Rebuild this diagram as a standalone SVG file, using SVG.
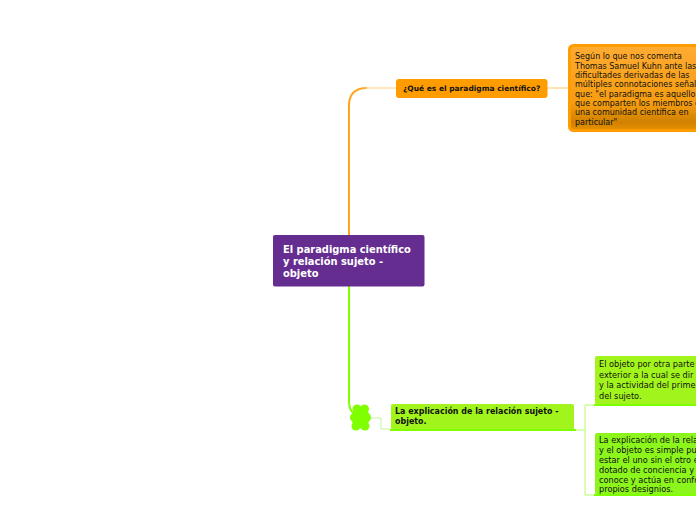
<svg xmlns="http://www.w3.org/2000/svg" width="696" height="520" viewBox="0 0 696 520">
<defs>
<linearGradient id="og" x1="0" y1="0" x2="0" y2="1"><stop offset="0" stop-color="#ffab33"/><stop offset="0.68" stop-color="#f59d10"/><stop offset="0.9" stop-color="#d08100"/><stop offset="1" stop-color="#e89200"/></linearGradient>
</defs>
<style>
text{font-family:"DejaVu Sans",Verdana,sans-serif;fill:#111}
.k{font-size:8px}
.s{font-size:8.200px}
.b{font-weight:bold}
.e{font-size:8.300px}
</style>
<rect width="696" height="520" fill="#fff"/>
<g id="connectors" fill="none">
<path d="M349 236V106Q349 88 367 88" stroke="#ffa51f" stroke-width="2"/>
<path d="M364 88H397" stroke="#ffcf80" stroke-width="1"/>
<path d="M547 88H569" stroke="#ffc766" stroke-width="1"/>
<path d="M349 286V402Q349 412 357 416" stroke="#7fff00" stroke-width="2"/>
<path d="M370 418H381V429H391" stroke="#c4f59a" stroke-width="1"/>
<path d="M574 430H585" stroke="#b3ff66" stroke-width="1"/>
<path d="M595 405H585V495H595" stroke="#b3ff66" stroke-width="1"/>
</g>
<g id="node-root">
<rect x="273" y="235" width="151.500" height="51.500" rx="2" fill="#662d91"/>
<text class="b" x="283" y="253" font-size="9.900" style="fill:#fff">El paradigma científico</text>
<text class="b" x="283" y="265" font-size="9.900" style="fill:#fff">y relación sujeto -</text>
<text class="b" x="283" y="277" font-size="9.900" style="fill:#fff">objeto</text>
</g>
<g id="node-paradigma">
<rect x="396" y="79" width="151.500" height="19" rx="3" fill="#ff9c00"/>
<text class="b" x="403" y="91" font-size="7.500">¿Qué es el paradigma científico?</text>
</g>
<g id="node-kuhn">
<rect x="569.500" y="45.500" width="140" height="85" rx="4" fill="url(#og)" stroke="#ff9c00" stroke-width="3"/>
<text class="k" x="575" y="58.500">Según lo que nos comenta</text>
<text class="k" x="575" y="68.500">Thomas Samuel Kuhn ante las</text>
<text class="k" x="575" y="77.500">dificultades derivadas de las</text>
<text class="k" x="575" y="87">múltiples connotaciones señala</text>
<text class="k" x="575" y="96.500">que: "el paradigma es aquello</text>
<text class="k" x="575" y="106">que comparten los miembros de</text>
<text class="k" x="575" y="115">una comunidad científica en</text>
<text class="k" x="575" y="125">particular"</text>
</g>
<g id="node-explicacion">
<rect x="391" y="404" width="183" height="26" rx="2" fill="#a2f51c"/>
<rect x="390" y="429" width="186" height="2" fill="#7fff00"/>
<text class="b e" transform="translate(395 414) scale(.959 1)">La explicación de la relación sujeto -</text>
<text class="b e" transform="translate(395 424) scale(.959 1)">objeto.</text>
</g>
<g id="node-cloud" fill="#7fff00">
<ellipse cx="360.500" cy="417.500" rx="9" ry="11"/>
<circle cx="357" cy="409" r="4.500"/>
<circle cx="364.500" cy="409" r="4.500"/>
<circle cx="354.500" cy="417.500" r="4.500"/>
<circle cx="366.500" cy="417.500" r="4.500"/>
<circle cx="356" cy="426" r="4.500"/>
<circle cx="365" cy="426" r="4.500"/>
</g>
<g id="node-objeto">
<rect x="595" y="356" width="110" height="49" rx="2" fill="#a2f51c"/>
<rect x="594" y="404" width="110" height="2" fill="#7fff00"/>
<text class="s" x="599" y="367">El objeto por otra parte</text>
<text class="s" x="599" y="378">exterior a la cual se dir</text>
<text class="s" x="599" y="388">y la actividad del prime</text>
<text class="s" x="599" y="399">del sujeto.</text>
</g>
<g id="node-relacion">
<rect x="595" y="433" width="110" height="62" rx="2" fill="#8cf51c"/>
<rect x="594" y="494" width="110" height="2" fill="#7fff00"/>
<text class="s" x="599" y="443">La explicación de la relac</text>
<text class="s" x="599" y="453">y el objeto es simple pue</text>
<text class="s" x="599" y="463">estar el uno sin el otro e</text>
<text class="s" x="599" y="472.500">dotado de conciencia y d</text>
<text class="s" x="599" y="482.500">conoce y actúa en confo</text>
<text class="s" x="599" y="492">propios designios.</text>
</g>
</svg>
